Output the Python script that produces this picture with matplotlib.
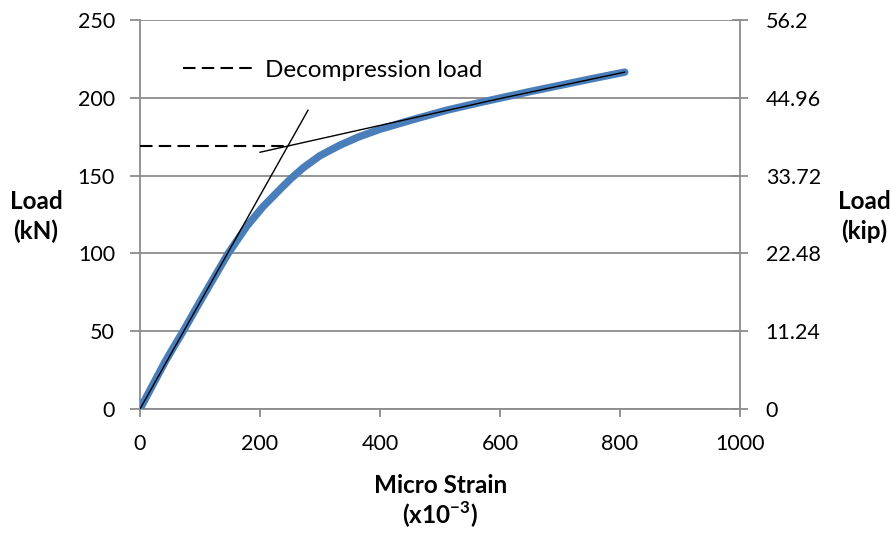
import matplotlib
matplotlib.use("Agg")
import matplotlib.pyplot as plt

plt.rcParams['font.family'] = ['Lato', 'DejaVu Sans']
plt.rcParams['mathtext.fontset'] = 'custom'
plt.rcParams['mathtext.rm'] = 'Lato'
plt.rcParams['mathtext.bf'] = 'Lato:bold'

# measured load vs strain
strain = [0, 22, 42, 58, 72, 100, 147, 178, 205, 233, 250, 272, 300, 333,
          364, 400, 455, 511, 567, 600, 650, 700, 750, 808]
load = [0, 16, 30.5, 41, 50, 69, 100, 117.5, 130, 141, 147.5, 155, 162.8, 169.5,
        174.8, 179.8, 186, 192, 197, 199.8, 204, 208, 212, 216.5]

# tangent lines
steep_x = [0, 280]
steep_y = [0, 192]
shallow_x = [200, 600, 808]
shallow_y = [165, 199.5, 216.5]

# decompression load
decomp_x = [0, 244]
decomp_y = [169, 169]

x_ticks = [0, 200, 400, 600, 800, 1000]
y_ticks = [0, 50, 100, 150, 200, 250]
kip_ticks = [0, 11.24, 22.48, 33.72, 44.96, 56.2]
kip_labels = ['0', '11.24', '22.48', '33.72', '44.96', '56.2']

grey = '#8c8c8c'
blue = '#4a7ebb'
tick_fs = 15.5
label_fs = 17.5

fig = plt.figure(figsize=(8.91, 5.33), dpi=100)
ax = fig.add_axes([0.1571, 0.2326, 0.6734, 0.7299])

ax.plot(strain, load, color=blue, lw=5.4, solid_capstyle='round',
        solid_joinstyle='round', zorder=3)
ax.plot(steep_x, steep_y, color='black', lw=1.0, zorder=4)
ax.plot(shallow_x, shallow_y, color='black', lw=1.0, zorder=4)
ax.plot(decomp_x, decomp_y, color='black', lw=1.5, dashes=(6, 3), zorder=4,
        label='Decompression load')

ax.set_xlim(0, 1000)
ax.set_ylim(0, 250)
ax.set_xticks(x_ticks)
ax.set_yticks(y_ticks)
ax.yaxis.grid(True, color=grey, lw=1.3)
ax.set_axisbelow(True)
for side in ['left', 'bottom', 'right', 'top']:
    ax.spines[side].set_color(grey)
    ax.spines[side].set_linewidth(1.3)
ax.spines['top'].set_visible(False)
ax.tick_params(axis='both', colors=grey, labelcolor='black', labelsize=tick_fs,
               direction='out', width=1.3)
ax.tick_params(axis='x', length=6, pad=12)
ax.tick_params(axis='y', length=7, pad=11)

ax2 = ax.twinx()
ax2.set_ylim(0, 56.2)
ax2.set_yticks(kip_ticks)
ax2.set_yticklabels(kip_labels)
ax2.tick_params(axis='y', colors=grey, labelcolor='black', labelsize=tick_fs,
                direction='inout', length=11, width=1.3, pad=13)
for side in ['left', 'bottom', 'right', 'top']:
    ax2.spines[side].set_visible(False)

ax.legend(loc='center left', bbox_to_anchor=(0.072, 0.871), frameon=False,
          fontsize=label_fs, borderpad=0, borderaxespad=0, handlelength=2.9,
          handletextpad=0.45)

fig.text(0.0404, 0.594, 'Load\n(kN)', ha='center', va='center',
         fontsize=label_fs, fontweight='bold', linespacing=1.35)
fig.text(0.970, 0.594, 'Load\n(kip)', ha='center', va='center',
         fontsize=label_fs, fontweight='bold', linespacing=1.35)
fig.text(0.494, 0.090, 'Micro Strain', ha='center', va='center',
         fontsize=label_fs, fontweight='bold')
fig.text(0.494, 0.034, r'(x10$^{\mathbf{-3}}$)', ha='center', va='center',
         fontsize=label_fs, fontweight='bold')

fig.savefig('out.png', dpi=100)
